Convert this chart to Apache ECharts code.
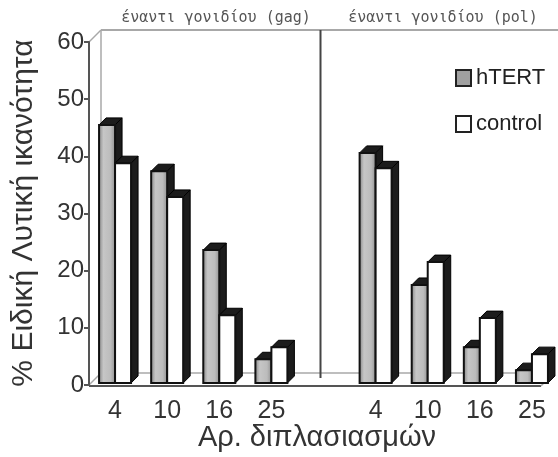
<!DOCTYPE html>
<html><head><meta charset="utf-8">
<script src="https://cdn.jsdelivr.net/npm/echarts@6/dist/echarts.min.js"></script>
<style>html,body{margin:0;padding:0;background:#fff}#c{width:558px;height:457px}</style>
</head><body><div id="c"></div>
<script>
// ---- data ----
const categories = ['4', '10', '16', '25', '', '4', '10', '16', '25'];
const hTERT = [45.5, 37.4, 23.6, 4.5, null, 40.6, 17.5, 6.6, 2.6];
const control = [38.8, 32.9, 12.2, 6.6, null, 37.9, 21.5, 11.7, 5.4];
const seriesNames = ['hTERT', 'control'];
const groupTitles = ['έναντι γονιδίου (gag)', 'έναντι γονιδίου (pol)'];
const yTitle = '% Ειδική Λυτική ικανότητα';
const xTitle = 'Αρ. διπλασιασμών';

// ---- layout / style ----
const G = { left: 89, top: 42, width: 472, height: 343 };
const D = 7;      // bar depth
const BW = 16;    // bar front width
const WALL = 12;  // back wall offset
const FONT = 'Liberation Sans, Arial, sans-serif';

function render3D(kind) {
  return function (params, api) {
    const i = api.value(0), v = api.value(1);
    const top = api.coord([i, v]);
    const base = api.coord([i, 0]);
    const cx = top[0];
    const x0 = kind === 0 ? cx - BW : cx;
    const x1 = x0 + BW;
    const yT = top[1], yB = base[1] - 2;
    const dark = '#1c1c1c';
    const front = kind === 0
      ? { type: 'linear', x: 0, y: 0, x2: 1, y2: 0, colorStops: [
          { offset: 0, color: '#7e7e7e' }, { offset: 0.3, color: '#c6c6c6' },
          { offset: 0.7, color: '#bcbcbc' }, { offset: 1, color: '#8a8a8a' }] }
      : '#ffffff';
    return { type: 'group', children: [
      { type: 'polygon', shape: { points: [[x1, yT], [x1 + D, yT - D], [x1 + D, yB - D], [x1, yB]] },
        style: { fill: dark, stroke: '#000', lineWidth: 1 } },
      { type: 'polygon', shape: { points: [[x0, yT], [x0 + D, yT - D], [x1 + D, yT - D], [x1, yT]] },
        style: { fill: dark, stroke: '#000', lineWidth: 1 } },
      { type: 'rect', shape: { x: x0, y: yT, width: BW, height: yB - yT },
        style: { fill: front, stroke: '#111', lineWidth: 2 } }
    ] };
  };
}

function toData(arr) {
  const out = [];
  arr.forEach((v, i) => { if (v != null) out.push([i, v]); });
  return out;
}

const legendText = { fontFamily: FONT, fontSize: 22, lineHeight: 22, color: '#222' };
const chart = echarts.init(document.getElementById('c'), null, { renderer: 'canvas' });
chart.setOption({
  animation: false,
  backgroundColor: '#fff',
  grid: { left: G.left, top: G.top, width: G.width, height: G.height, containLabel: false },
  legend: [
    { left: 455, top: 67, itemWidth: 15, itemHeight: 16, padding: 0, textStyle: legendText,
      data: [{ name: seriesNames[0], icon: 'rect', itemStyle: { color: '#a0a0a0', borderColor: '#222', borderWidth: 2 } }] },
    { left: 455, top: 113, itemWidth: 15, itemHeight: 16, padding: 0, textStyle: legendText,
      data: [{ name: seriesNames[1], icon: 'rect', itemStyle: { color: '#fff', borderColor: '#222', borderWidth: 2 } }] }
  ],
  xAxis: {
    type: 'category', data: categories,
    axisLine: { show: false }, axisTick: { show: false },
    axisLabel: { fontFamily: FONT, fontSize: 25, color: '#333', margin: 14, interval: 0 }
  },
  yAxis: {
    type: 'value', min: 0, max: 60, interval: 10,
    axisLine: { show: true, lineStyle: { color: '#555', width: 2 } },
    axisTick: { show: true, length: 5, lineStyle: { color: '#555', width: 2 } },
    axisLabel: { fontFamily: FONT, fontSize: 24, color: '#333', margin: 5 },
    splitLine: { show: false }
  },
  series: [
    { name: seriesNames[0], type: 'custom', renderItem: render3D(0), data: toData(hTERT),
      encode: { x: 0, y: 1 }, clip: false, itemStyle: { color: '#a0a0a0' } },
    { name: seriesNames[1], type: 'custom', renderItem: render3D(1), data: toData(control),
      encode: { x: 0, y: 1 }, clip: false, itemStyle: { color: '#fff' } }
  ]
});

// decoration: back wall, floor, divider, titles
const x0 = G.left, y0 = G.top + G.height, yTop = G.top;
const floorRight = 541;
const divX = chart.convertToPixel({ xAxisIndex: 0 }, 4) - 3;
const lc = '#a8a8a8';
const line = (a, b, c, d, color, w) => ({ type: 'line', z: -10, shape: { x1: a, y1: b, x2: c, y2: d },
  style: { stroke: color, lineWidth: w } });
chart.setOption({
  graphic: [
    line(x0, yTop, x0 + WALL, yTop - WALL, lc, 1.5),
    line(x0 + WALL, yTop - WALL, 558, yTop - WALL, lc, 2),
    line(x0 + WALL, yTop - WALL, x0 + WALL, y0 - WALL, lc, 1.5),
    line(x0, y0, x0 + WALL, y0 - WALL, lc, 1.5),
    line(x0 + WALL, y0 - WALL, floorRight + WALL, y0 - WALL, lc, 1.5),
    line(x0, y0 + 1, floorRight, y0 + 1, '#555', 2),
    line(floorRight, y0 + 1, floorRight + WALL, y0 - WALL, lc, 1.5),
    line(divX, yTop - WALL, divX, y0 - 7, '#444', 2),
    { type: 'text', x: 216, y: 18, style: { text: groupTitles[0], font: '15px DejaVu Sans Mono', fill: '#555',
      textAlign: 'center', textVerticalAlign: 'middle' } },
    { type: 'text', x: 443, y: 18, style: { text: groupTitles[1], font: '15px DejaVu Sans Mono', fill: '#555',
      textAlign: 'center', textVerticalAlign: 'middle' } },
    { type: 'text', x: 317, y: 438, style: { text: xTitle, font: '29px ' + FONT, fill: '#333',
      textAlign: 'center', textVerticalAlign: 'middle' } },
    { type: 'text', x: 24, y: 213, rotation: Math.PI / 2, style: { text: yTitle, font: '30px ' + FONT, fill: '#333',
      textAlign: 'center', textVerticalAlign: 'middle' } }
  ]
});
</script>
</body></html>
